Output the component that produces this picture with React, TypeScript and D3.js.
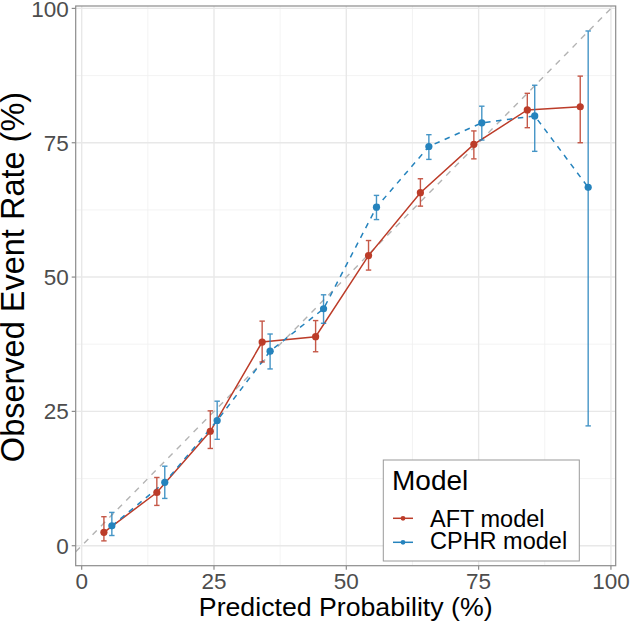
import React from "react";
import * as d3 from "d3";

const aftX = [4.2, 14.2, 24.3, 34.1, 44.2, 54.2, 64.0, 74.1, 84.2, 94.2];
const aftY = [2.5, 9.9, 21.3, 37.9, 38.9, 54.0, 65.7, 74.7, 81.1, 81.7];
const aftLo = [0.9, 7.5, 18.1, 34.2, 36.1, 51.3, 63.2, 72.0, 77.8, 75.0];
const aftHi = [5.4, 12.7, 25.1, 41.8, 41.9, 56.8, 68.3, 77.2, 84.2, 87.4];

const cphrX = [5.7, 15.7, 25.6, 35.6, 45.7, 55.7, 65.6, 75.6, 85.6, 95.7];
const cphrY = [3.7, 11.8, 23.3, 36.2, 44.1, 63.0, 74.3, 78.7, 80.0, 66.7];
const cphrLo = [1.9, 8.8, 19.8, 32.9, 41.4, 60.7, 71.9, 75.5, 73.4, 22.3];
const cphrHi = [6.2, 14.8, 26.9, 39.4, 46.7, 65.2, 76.5, 81.8, 85.7, 95.8];

const majorTicks = [0, 25, 50, 75, 100];
const minorTicks = [12.5, 37.5, 62.5, 87.5];
const seriesNames = ["AFT model", "CPHR model"];
const seriesColors = ["#BC3C29", "#2583BD"];

const W = 630;
const H = 623;
const P = { left: 75.7, right: 615.7, top: 6, bottom: 565.7 };
const FONT = "'Liberation Sans', Arial, Helvetica, sans-serif";

export default function App() {
  const x = d3.scaleLinear().domain([-1.13, 100.9]).range([P.left, P.right]);
  const y = d3.scaleLinear().domain([-3.72, 100.45]).range([P.bottom, P.top]);

  const series = [
    { name: seriesNames[0], color: seriesColors[0], xs: aftX, ys: aftY, lo: aftLo, hi: aftHi, dash: undefined as string | undefined },
    { name: seriesNames[1], color: seriesColors[1], xs: cphrX, ys: cphrY, lo: cphrLo, hi: cphrHi, dash: "5.5,5.5" },
  ];

  const line = d3
    .line<[number, number]>()
    .x((d) => x(d[0]))
    .y((d) => y(d[1]));

  const diagLo = Math.max(x.domain()[0], y.domain()[0]);
  const diagHi = Math.min(x.domain()[1], y.domain()[1]);

  return (
    <svg width={W} height={H} style={{ position: "absolute", left: 0, top: 0, background: "#fff" }} fontFamily={FONT}>
      <rect x={0} y={0} width={W} height={H} fill="#fff" />
      <defs>
        <clipPath id="panel">
          <rect x={P.left} y={P.top} width={P.right - P.left} height={P.bottom - P.top} />
        </clipPath>
      </defs>
      {/* grid */}
      {minorTicks.map((t) => (
        <g key={"mn" + t}>
          <line x1={x(t)} x2={x(t)} y1={P.top} y2={P.bottom} stroke="#F0F0F0" strokeWidth={0.8} />
          <line x1={P.left} x2={P.right} y1={y(t)} y2={y(t)} stroke="#F0F0F0" strokeWidth={0.8} />
        </g>
      ))}
      {majorTicks.map((t) => (
        <g key={"mj" + t}>
          <line x1={x(t)} x2={x(t)} y1={P.top} y2={P.bottom} stroke="#E8E8E8" strokeWidth={1.4} />
          <line x1={P.left} x2={P.right} y1={y(t)} y2={y(t)} stroke="#E8E8E8" strokeWidth={1.4} />
        </g>
      ))}
      <g clipPath="url(#panel)">
        <line
          x1={x(diagLo)}
          y1={y(diagLo)}
          x2={x(diagHi)}
          y2={y(diagHi)}
          stroke="#B3B3B3"
          strokeWidth={1.4}
          strokeDasharray="6,6"
        />
        {series.map((s) => (
          <path
            key={"l" + s.name}
            d={line(s.xs.map((v, i) => [v, s.ys[i]] as [number, number])) || ""}
            fill="none"
            stroke={s.color}
            strokeWidth={1.5}
            strokeDasharray={s.dash}
          />
        ))}
        {series.map((s) =>
          s.xs.map((v, i) => (
            <g key={"e" + s.name + i} stroke={s.color} strokeWidth={1.4} opacity={0.85}>
              <line x1={x(v)} x2={x(v)} y1={y(s.lo[i])} y2={y(s.hi[i])} />
              <line x1={x(v) - 2.7} x2={x(v) + 2.7} y1={y(s.lo[i])} y2={y(s.lo[i])} />
              <line x1={x(v) - 2.7} x2={x(v) + 2.7} y1={y(s.hi[i])} y2={y(s.hi[i])} />
            </g>
          ))
        )}
        {series.map((s) =>
          s.xs.map((v, i) => <circle key={"p" + s.name + i} cx={x(v)} cy={y(s.ys[i])} r={3.6} fill={s.color} />)
        )}
      </g>
      <rect
        x={P.left}
        y={P.top}
        width={P.right - P.left}
        height={P.bottom - P.top}
        fill="none"
        stroke="#8C8C8C"
        strokeWidth={1.2}
      />
      {/* axes ticks */}
      {majorTicks.map((t) => (
        <g key={"xt" + t}>
          <line x1={x(t)} x2={x(t)} y1={P.bottom} y2={P.bottom + 4} stroke="#8C8C8C" strokeWidth={1.2} />
          <text x={x(t)} y={589} textAnchor="middle" fontSize={22.5} fill="#4D4D4D">
            {t}
          </text>
          <line x1={P.left - 4} x2={P.left} y1={y(t)} y2={y(t)} stroke="#8C8C8C" strokeWidth={1.2} />
          <text x={P.left - 7} y={y(t)} dy="0.36em" textAnchor="end" fontSize={22.5} fill="#4D4D4D">
            {t}
          </text>
        </g>
      ))}
      <text x={(P.left + P.right) / 2} y={615.5} textAnchor="middle" fontSize={26.7} fill="#000">
        Predicted Probability (%)
      </text>
      <text
        transform={`translate(23.5,277) rotate(-90)`}
        textAnchor="middle"
        fontSize={32.5}
        fill="#000"
      >
        Observed Event Rate (%)
      </text>
      {/* legend */}
      <g>
        <rect x={383.3} y={460} width={196} height={101} fill="#fff" stroke="#9A9A9A" strokeWidth={1} />
        <text x={392} y={490} fontSize={28} fill="#000">
          Model
        </text>
        {series.map((s, i) => (
          <g key={"lg" + s.name}>
            <line x1={393} x2={413} y1={518.3 + i * 24} y2={518.3 + i * 24} stroke={s.color} strokeWidth={1.5} />
            <circle cx={403} cy={518.3 + i * 24} r={2.4} fill={s.color} />
            <text x={430} y={526.5 + i * 22.3} fontSize={23.5} fill="#000">
              {s.name}
            </text>
          </g>
        ))}
      </g>
    </svg>
  );
}
